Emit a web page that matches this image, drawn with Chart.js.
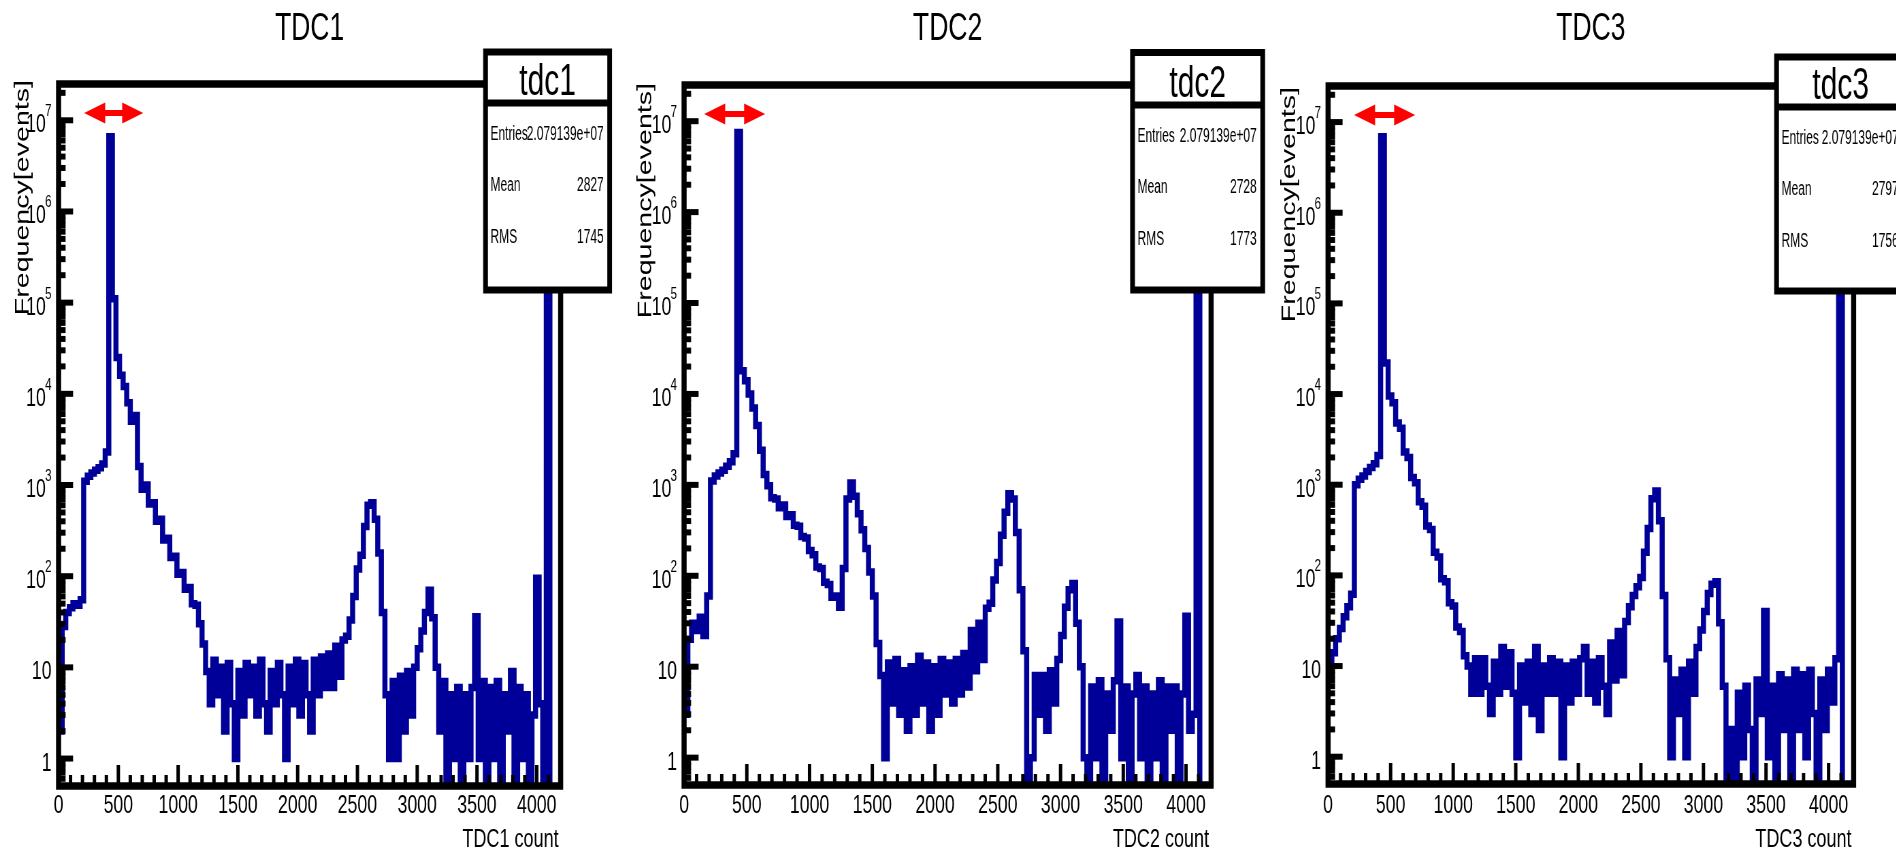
<!DOCTYPE html>
<html>
<head>
<meta charset="utf-8">
<title>TDC spectra</title>
<script src="https://cdn.jsdelivr.net/npm/chart.js@4.4.1/dist/chart.umd.min.js"></script>
<style>
  html, body { margin: 0; padding: 0; background: #fff; }
  body { width: 1896px; height: 851px; position: relative; overflow: hidden; }
  .panel { position: absolute; top: 0; height: 851px; transform-origin: 0 0; }
  .panel canvas { display: block; }
</style>
</head>
<body>
<div class="panel" id="p1"><canvas id="c1"></canvas></div>
<div class="panel" id="p2"><canvas id="c2"></canvas></div>
<div class="panel" id="p3"><canvas id="c3"></canvas></div>
<script>
// histogram binning: 140 bins of 30 counts, 0..4200
const binCenters = [
  15, 45, 75, 105, 135, 165, 195, 225, 255, 285,
  315, 345, 375, 405, 435, 465, 495, 525, 555, 585,
  615, 645, 675, 705, 735, 765, 795, 825, 855, 885,
  915, 945, 975, 1005, 1035, 1065, 1095, 1125, 1155, 1185,
  1215, 1245, 1275, 1305, 1335, 1365, 1395, 1425, 1455, 1485,
  1515, 1545, 1575, 1605, 1635, 1665, 1695, 1725, 1755, 1785,
  1815, 1845, 1875, 1905, 1935, 1965, 1995, 2025, 2055, 2085,
  2115, 2145, 2175, 2205, 2235, 2265, 2295, 2325, 2355, 2385,
  2415, 2445, 2475, 2505, 2535, 2565, 2595, 2625, 2655, 2685,
  2715, 2745, 2775, 2805, 2835, 2865, 2895, 2925, 2955, 2985,
  3015, 3045, 3075, 3105, 3135, 3165, 3195, 3225, 3255, 3285,
  3315, 3345, 3375, 3405, 3435, 3465, 3495, 3525, 3555, 3585,
  3615, 3645, 3675, 3705, 3735, 3765, 3795, 3825, 3855, 3885,
  3915, 3945, 3975, 4005, 4035, 4065, 4095, 4125, 4155, 4185
];

const tdc1Counts = [
  2, 28, 40, 45, 50, 48, 55, 1100, 1250, 1350,
  1450, 1550, 1700, 2300, 6600000, 110000, 25000, 16000, 12000, 8000,
  5000, 5800, 1600, 900, 1000, 620, 640, 400, 420, 250,
  260, 160, 165, 105, 110, 72, 75, 50, 48, 30,
  18, 9, 4, 12, 5, 10, 2, 11, 4, 1,
  9, 3, 11, 5, 10, 3, 12, 4, 2, 9,
  4, 11, 5, 1, 10, 4, 12, 3, 11, 5,
  2, 12, 5, 13, 6, 14, 6, 17, 8, 20,
  22, 33, 60, 120, 170, 350, 600, 640, 420, 180,
  40, 5, 1, 7, 1, 8, 2, 9, 3, 10,
  16, 25, 40, 70, 35, 10, 2, 7, 0, 5,
  1, 6, 0, 5, 1, 6, 36, 1, 7, 0,
  6, 1, 7, 0, 5, 2, 9, 0, 6, 1,
  5, 0, 3, 95, 4, 0, 13600000, 0, 0, 0
];

const tdc2Counts = [
  3, 20, 30, 25, 35, 22, 60, 1100, 1250, 1350,
  1450, 1600, 1800, 2200, 7500000, 18000, 14000, 10000, 7000, 4500,
  2400, 1300, 980, 720, 700, 560, 600, 450, 470, 360,
  350, 270, 260, 190, 170, 125, 120, 85, 80, 58,
  60, 45, 120, 700, 1050, 750, 480, 320, 200, 110,
  60, 18, 8, 1, 11, 4, 12, 3, 9, 2,
  10, 3, 13, 4, 11, 2, 10, 3, 12, 5,
  11, 4, 12, 5, 14, 6, 25, 9, 30, 12,
  44, 50, 90, 140, 280, 500, 800, 700, 300, 70,
  15, 0, 1, 8, 3, 8, 2, 9, 4, 12,
  22, 45, 70, 82, 30, 10, 1, 0, 6, 1,
  7, 0, 5, 2, 7, 31, 1, 6, 0, 5,
  8, 1, 6, 0, 5, 1, 7, 0, 6, 2,
  6, 0, 5, 36, 2, 3, 13000000, 0, 0, 0
];

const tdc3Counts = [
  10, 14, 20, 26, 35, 45, 62, 1000, 1150, 1250,
  1400, 1550, 1700, 2100, 6900000, 22000, 9500, 8000, 4800, 4200,
  2300, 2000, 1200, 1050, 650, 580, 350, 320, 180, 160,
  92, 85, 50, 46, 27, 24, 13, 10, 5, 12,
  5, 12, 6, 3, 11, 5, 16, 6, 14, 5,
  1, 10, 4, 11, 3, 16, 2, 10, 5, 12,
  5, 11, 1, 10, 4, 11, 5, 12, 16, 5,
  11, 4, 12, 6, 3, 18, 7, 24, 8, 31,
  45, 60, 75, 95, 180, 330, 700, 850, 400, 60,
  12, 1, 7, 3, 9, 1, 11, 5, 16, 25,
  40, 63, 80, 85, 30, 6, 0, 2, 0, 5,
  1, 6, 2, 0, 7, 3, 40, 1, 6, 0,
  8, 2, 7, 0, 9, 2, 8, 1, 9, 3,
  0, 7, 2, 9, 4, 12, 13400000, 0, 0, 0
];

const xTickValues = [0, 500, 1000, 1500, 2000, 2500, 3000, 3500, 4000];
const xTickLabels = ['0', '500', '1000', '1500', '2000', '2500', '3000', '3500', '4000'];
const yTickExponents = [0, 1, 2, 3, 4, 5, 6, 7];
const statEntries = ['2.079139e+07', '2.079139e+07', '2.079139e+07'];
const statMeans = ['2827', '2728', '2797'];
const statRms = ['1745', '1773', '1756'];

// the original picture is squeezed horizontally; each panel is drawn wide and scaled down
const SX = 0.68;
const H = 851;
const FONT = '"Liberation Sans", Arial, Helvetica, sans-serif';
const LINE_BLUE = '#000099';

const panels = [
  { div: 'p1', canvas: 'c1', L: 0, R: 620, area: [58.5, 560, 84, 786],
    title: 'TDC1', xTitle: 'TDC1 count', name: 'tdc1', counts: tdc1Counts,
    box: [485, 609, 52, 103, 290], arrow: [214, 708], yTitle: [23, 80] },
  { div: 'p2', canvas: 'c2', L: 620, R: 1272, area: [684, 1210.5, 85, 785],
    title: 'TDC2', xTitle: 'TDC2 count', name: 'tdc2', counts: tdc2Counts,
    box: [1132, 1262, 52.5, 105, 290], arrow: [160, 646], yTitle: [646, 83] },
  { div: 'p3', canvas: 'c3', L: 1272, R: 1896, area: [1328, 1853, 86, 784],
    title: 'TDC3', xTitle: 'TDC3 count', name: 'tdc3', counts: tdc3Counts,
    box: [1776, 1904, 57, 107, 291], arrow: [208, 696], yTitle: [1290, 87] }
];

// text squeezed a little more than the panel itself (stats box)
function narrowText(ctx, text, x, y, k) {
  ctx.save();
  ctx.translate(x, y);
  ctx.scale(k, 1);
  ctx.fillText(text, 0, 0);
  ctx.restore();
}

function rootDecorations(p, idx) {
  return {
    id: 'rootDecorations' + idx,
    afterDraw(chart) {
      const ctx = chart.ctx;
      const a = chart.chartArea;
      const xs = chart.scales.x;
      const ys = chart.scales.y;
      const cx = sx => (sx - p.L) / SX;
      ctx.save();
      ctx.strokeStyle = '#000';
      ctx.fillStyle = '#000';
      ctx.lineCap = 'butt';

      // x ticks, pointing up into the frame
      ctx.lineWidth = 5;
      for (let v = 0; v < 4200; v += 100) {
        const px = xs.getPixelForValue(v);
        const len = v % 500 === 0 ? 21 : 11;
        ctx.beginPath();
        ctx.moveTo(px, a.bottom);
        ctx.lineTo(px, a.bottom - len);
        ctx.stroke();
      }
      // y ticks, log decades with minor ticks
      ctx.lineWidth = 6;
      for (let k = -1; k <= 7; k++) {
        for (let m = 1; m <= 9; m++) {
          const v = m * Math.pow(10, k);
          if (v < ys.min || v > ys.max) continue;
          const py = ys.getPixelForValue(v);
          const len = (m === 1 ? 14.5 : 7) / SX;
          ctx.beginPath();
          ctx.moveTo(a.left, py);
          ctx.lineTo(a.left + len, py);
          ctx.stroke();
        }
      }

      // frame
      ctx.lineWidth = 7.5;
      ctx.strokeRect(a.left, a.top, a.right - a.left, a.bottom - a.top);

      // stats box
      const [bl, br, bt, bs, bb] = p.box;
      ctx.fillStyle = '#fff';
      ctx.fillRect(cx(bl), bt, cx(br) - cx(bl), bb - bt);
      ctx.lineWidth = 7;
      ctx.strokeRect(cx(bl), bt, cx(br) - cx(bl), bb - bt);
      ctx.beginPath();
      ctx.moveTo(cx(bl), bs);
      ctx.lineTo(cx(br), bs);
      ctx.stroke();

      ctx.fillStyle = '#000';
      ctx.textBaseline = 'alphabetic';
      ctx.font = '44px ' + FONT;
      ctx.textAlign = 'center';
      ctx.fillText(p.name, (cx(bl) + cx(br)) / 2, bs - 8);
      ctx.font = '20px ' + FONT;
      const tl = cx(bl) + 5 / SX;
      const tr = cx(br) - 6 / SX;
      const rows = [['Entries', statEntries[idx], 37], ['Mean', statMeans[idx], 88], ['RMS', statRms[idx], 140]];
      rows.forEach(r => {
        ctx.textAlign = 'left';
        narrowText(ctx, r[0], tl, bs + r[2], 0.88);
        ctx.textAlign = 'right';
        narrowText(ctx, r[1], tr, bs + r[2], 0.88);
      });

      // red double arrow over the main peak
      const ax0 = xs.getPixelForValue(p.arrow[0]);
      const ax1 = xs.getPixelForValue(p.arrow[1]);
      const ay = ys.getPixelForValue(1.2e7);
      const head = 21 / SX;
      ctx.fillStyle = '#ff0000';
      ctx.beginPath();
      ctx.moveTo(ax0, ay);
      ctx.lineTo(ax0 + head, ay - 10.5);
      ctx.lineTo(ax0 + head, ay - 3);
      ctx.lineTo(ax1 - head, ay - 3);
      ctx.lineTo(ax1 - head, ay - 10.5);
      ctx.lineTo(ax1, ay);
      ctx.lineTo(ax1 - head, ay + 10.5);
      ctx.lineTo(ax1 - head, ay + 3);
      ctx.lineTo(ax0 + head, ay + 3);
      ctx.lineTo(ax0 + head, ay + 10.5);
      ctx.closePath();
      ctx.fill();

      ctx.fillStyle = '#000';
      // x tick labels
      ctx.font = '26px ' + FONT;
      ctx.textAlign = 'center';
      xTickValues.forEach((v, i) => {
        ctx.fillText(xTickLabels[i], xs.getPixelForValue(v), 813);
      });
      // y tick labels
      const rx = a.left - 7 / SX;
      yTickExponents.forEach(d => {
        const py = ys.getPixelForValue(Math.pow(10, d));
        ctx.textAlign = 'right';
        if (d < 2) {
          ctx.font = '26px ' + FONT;
          ctx.fillText(d === 0 ? '1' : '10', rx, py + 12);
        } else {
          ctx.font = '17px ' + FONT;
          ctx.fillText(String(d), rx, py - 4);
          const ew = ctx.measureText(String(d)).width;
          ctx.font = '26px ' + FONT;
          ctx.fillText('10', rx - ew + 1, py + 12);
        }
      });

      // titles
      ctx.font = '39px ' + FONT;
      ctx.textAlign = 'center';
      ctx.fillText(p.title, (a.left + a.right) / 2, 40);
      ctx.font = '26.5px ' + FONT;
      ctx.textAlign = 'right';
      ctx.fillText(p.xTitle, a.right - 2 / SX, 847);

      ctx.save();
      ctx.translate(cx(p.yTitle[0]), p.yTitle[1]);
      ctx.rotate(-Math.PI / 2);
      ctx.font = '28.6px ' + FONT;
      ctx.textAlign = 'right';
      ctx.textBaseline = 'middle';
      ctx.fillText('Frequency[events]', 0, 0);
      ctx.restore();

      ctx.restore();
    }
  };
}

panels.forEach((p, idx) => {
  const div = document.getElementById(p.div);
  div.style.left = p.L + 'px';
  div.style.width = ((p.R - p.L) / SX) + 'px';
  div.style.transform = 'scaleX(' + SX + ')';
  const [al, ar, at, ab] = p.area;
  // empty bins sit below the log axis minimum, as ROOT draws them on the frame
  const points = binCenters.map((x, i) => ({ x: x, y: p.counts[i] > 0 ? p.counts[i] : 0.4 }));
  new Chart(document.getElementById(p.canvas), {
    type: 'line',
    data: {
      datasets: [{
        label: p.name,
        data: points,
        borderColor: LINE_BLUE,
        borderWidth: 7.5,
        stepped: 'middle',
        pointRadius: 0,
        fill: false,
        clip: 0
      }]
    },
    options: {
      responsive: true,
      maintainAspectRatio: false,
      animation: false,
      layout: { padding: { left: (al - p.L) / SX, right: (p.R - ar) / SX, top: at, bottom: H - ab } },
      plugins: { legend: { display: false }, tooltip: { enabled: false }, title: { display: false } },
      scales: {
        x: { type: 'linear', min: 0, max: 4200, display: false },
        y: { type: 'logarithmic', min: 0.5, max: 2.5e7, display: false }
      }
    },
    plugins: [rootDecorations(p, idx)]
  });
});
</script>
</body>
</html>
